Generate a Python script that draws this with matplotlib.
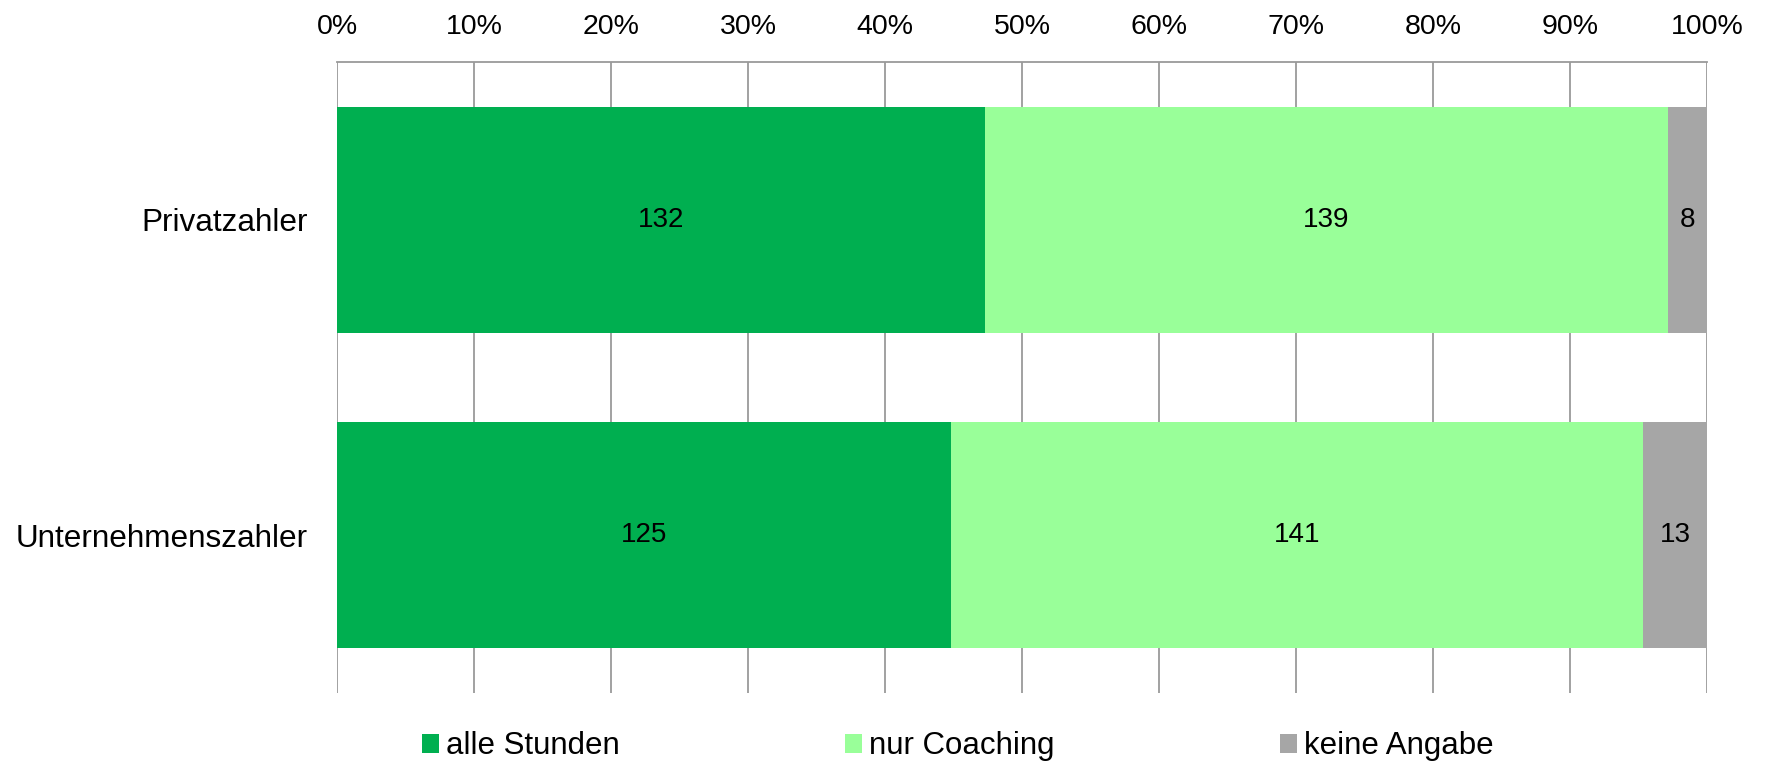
import matplotlib.pyplot as plt
from matplotlib.ticker import PercentFormatter
from matplotlib.patches import Patch
import numpy as np

categories = ["Privatzahler", "Unternehmenszahler"]
series_names = ["alle Stunden", "nur Coaching", "keine Angabe"]
alle_stunden = [132, 125]
nur_coaching = [139, 141]
keine_angabe = [8, 13]
colors = ["#00AF50", "#99FF99", "#A6A6A6"]

plt.rcParams['font.family'] = ['Liberation Sans', 'DejaVu Sans']

fig = plt.figure(figsize=(17.67, 7.64), dpi=100)
ax = fig.add_axes([0.1907, 0.0929, 0.9660 - 0.1907, 0.9188 - 0.0929])

counts = np.array([alle_stunden, nur_coaching, keine_angabe], dtype=float)
shares = counts / counts.sum(axis=0) * 100
y = np.arange(len(categories))

left = np.zeros(len(categories))
for i, name in enumerate(series_names):
    bars = ax.barh(y, shares[i], left=left, height=0.716, color=colors[i],
                   label=name, zorder=2)
    ax.bar_label(bars, labels=[f"{int(v)}" for v in counts[i]], label_type='center',
                 fontsize=20)
    left += shares[i]

ax.set_xlim(0, 100)
ax.set_ylim(1.5, -0.5)
ax.set_yticks(y)
ax.set_yticklabels(categories)
ax.set_xticks(np.arange(0, 101, 10))
ax.xaxis.set_major_formatter(PercentFormatter(decimals=0))
ax.xaxis.tick_top()
ax.tick_params(axis='x', length=0, pad=16, labelsize=20.5)
ax.tick_params(axis='y', length=0, pad=21, labelsize=22.7)
ax.grid(axis='x', color='#9A9A9A', linewidth=1.3, zorder=0)
ax.set_axisbelow(True)
for s in ['left', 'right', 'bottom']:
    ax.spines[s].set_visible(False)
ax.spines['top'].set_color('#9A9A9A')
ax.spines['top'].set_linewidth(1.3)

handles = [Patch(facecolor=c, edgecolor='none') for c in colors]
fig.legend(handles, series_names, loc='center', bbox_to_anchor=(0.542, 0.023),
           ncol=3, frameon=False, fontsize=22.5, handlelength=0.55, handleheight=0.55,
           handletextpad=0.22, columnspacing=7.2)

fig.savefig("out.png", dpi=100)
